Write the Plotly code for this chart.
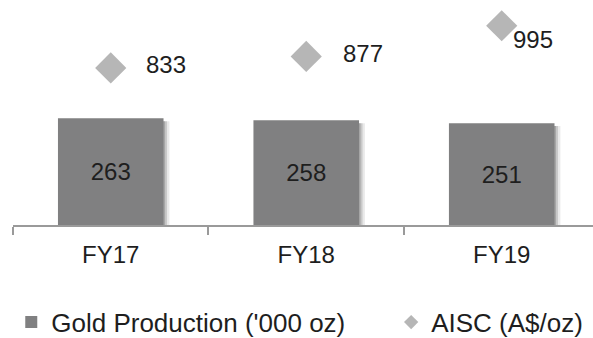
import plotly.graph_objects as go

years = ["FY17", "FY18", "FY19"]
gold_production = [263, 258, 251]      # '000 oz
aisc = [833, 877, 995]                 # A$/oz

FONT = "Liberation Sans, Arial, sans-serif"
BAR_COLOR = "#808081"
DIAMOND_COLOR = "#b6b6b6"
TEXT_COLOR = "#1e1e1e"
AXIS_COLOR = "#9a9a9a"

BAR_W = 0.54
fig = go.Figure()

# soft drop shadow to the right of each bar
for dx, alpha in [(0.030, 0.10), (0.018, 0.16), (0.008, 0.22)]:
    fig.add_trace(go.Bar(
        x=years, y=[v - 7 for v in gold_production],
        width=BAR_W, offset=-BAR_W / 2 + dx,
        marker=dict(color=f"rgba(40,40,40,{alpha})", line=dict(width=0)),
        showlegend=False, hoverinfo="skip",
    ))

# gold production bars with the value inside
fig.add_trace(go.Bar(
    x=years, y=gold_production, name="Gold Production ('000 oz)",
    marker=dict(color=BAR_COLOR, line=dict(width=0)),
    width=BAR_W, offset=-BAR_W / 2,
    text=[str(v) for v in gold_production],
    textposition="inside", insidetextanchor="middle",
    textfont=dict(family=FONT, size=24, color=TEXT_COLOR),
    legend="legend",
))

# diamond shadows (slightly down-right)
fig.add_trace(go.Scatter(
    x=[i + 0.013 for i in range(len(years))], y=[v - 11 for v in aisc],
    yaxis="y2", xaxis="x", mode="markers",
    marker=dict(symbol="diamond", size=24, color="rgba(60,60,60,0.22)",
                line=dict(width=0)),
    showlegend=False, hoverinfo="skip", cliponaxis=False,
))
# AISC diamonds on the secondary axis
fig.add_trace(go.Scatter(
    x=years, y=aisc, yaxis="y2", mode="markers",
    marker=dict(symbol="diamond", size=24, color=DIAMOND_COLOR,
                line=dict(width=0)),
    showlegend=False, cliponaxis=False,
))
# legend entry with a small diamond
fig.add_trace(go.Scatter(
    x=[None], y=[None], yaxis="y2", mode="markers", name="AISC (A$/oz)",
    marker=dict(symbol="diamond", size=11, color=DIAMOND_COLOR),
    legend="legend2",
))

# AISC value labels
label_shift = {"FY17": (33, 3), "FY18": (35, 3), "FY19": (9, -14)}
for yr, v in zip(years, aisc):
    dx, dy = label_shift[yr]
    fig.add_annotation(
        x=yr, y=v, yref="y2", text=str(v), showarrow=False,
        xanchor="left", yanchor="middle", xshift=dx, yshift=dy,
        font=dict(family=FONT, size=24, color=TEXT_COLOR),
    )

legend_style = dict(
    orientation="h", yanchor="middle", y=-0.432, xanchor="left",
    font=dict(family=FONT, size=26, color=TEXT_COLOR),
    bgcolor="rgba(0,0,0,0)", itemsizing="trace",
)

fig.update_layout(
    width=593, height=338,
    margin=dict(l=13, r=0, t=0, b=113, autoexpand=False),
    paper_bgcolor="white", plot_bgcolor="white",
    font=dict(family=FONT, size=24, color=TEXT_COLOR),
    barmode="overlay",
    xaxis=dict(
        range=[-0.5, 2.467], showgrid=False, zeroline=False,
        showline=True, linecolor=AXIS_COLOR, linewidth=1.5,
        ticks="outside", tickson="boundaries", ticklen=8,
        tickcolor=AXIS_COLOR, tickwidth=1.5, ticklabelstandoff=7,
        tickfont=dict(family=FONT, size=24, color=TEXT_COLOR),
    ),
    yaxis=dict(range=[0, 554.6], visible=False, showgrid=False, zeroline=False),
    yaxis2=dict(range=[229, 1094], overlaying="y", side="right",
                visible=False, showgrid=False, zeroline=False),
    legend=dict(x=-0.003, **legend_style),
    legend2=dict(x=0.652, **legend_style),
)

fig.write_html("out.html")
